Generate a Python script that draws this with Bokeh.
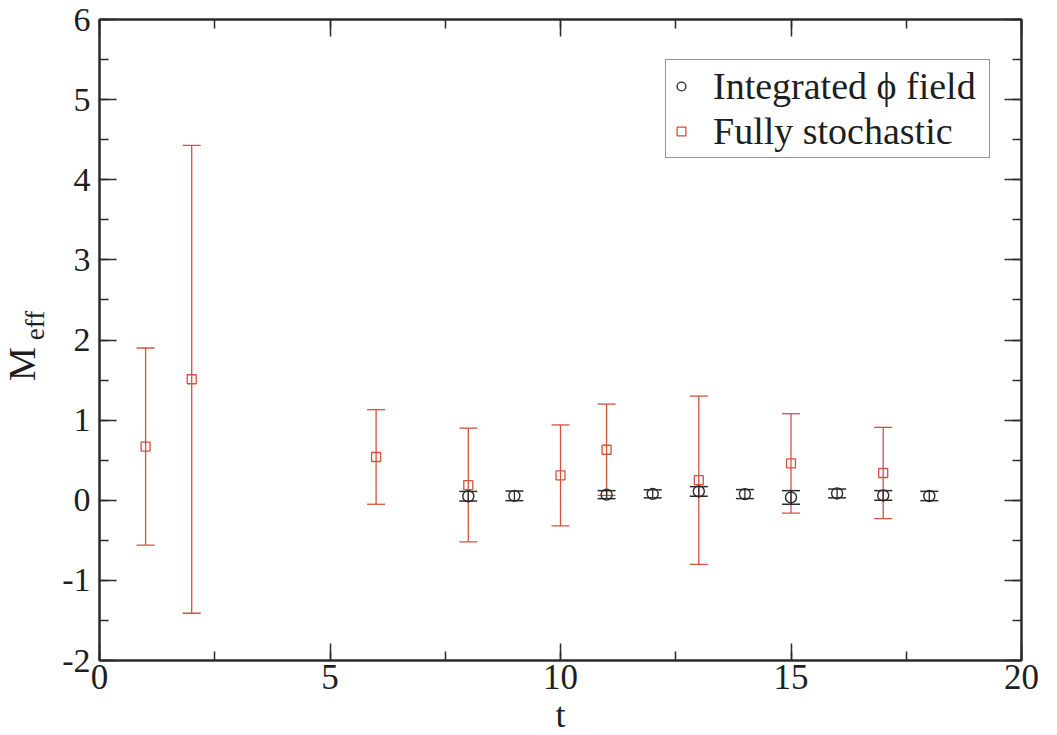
from bokeh.plotting import figure
from bokeh.models import (ColumnDataSource, Whisker, TeeHead, Legend, LegendItem,
                          Label, LinearAxis, SingleIntervalTicker, Range1d,
                          CustomJSTickFormatter)
from bokeh.embed import file_html
from bokeh.resources import INLINE

# Effective mass per time slice, integrated phi field estimator
t_int = [8, 9, 11, 12, 13, 14, 15, 16, 17, 18]
m_int = [0.05, 0.055, 0.07, 0.08, 0.11, 0.077, 0.035, 0.085, 0.06, 0.053]
e_int = [0.06, 0.06, 0.05, 0.05, 0.06, 0.056, 0.085, 0.055, 0.06, 0.058]

# Effective mass per time slice, fully stochastic estimator
t_sto = [1, 2, 6, 8, 10, 11, 13, 15, 17]
m_sto = [0.67, 1.51, 0.54, 0.19, 0.31, 0.63, 0.25, 0.46, 0.34]
e_sto = [1.23, 2.92, 0.59, 0.71, 0.63, 0.57, 1.05, 0.62, 0.57]

x_ticks_interval = 5
y_ticks_interval = 1

FONT = "Liberation Serif"
INK = "#2b2b2b"
TXT = "#1e1e1e"
RED = "#d4523e"

src_int = ColumnDataSource(dict(
    t=t_int, m=m_int,
    lo=[m - e for m, e in zip(m_int, e_int)],
    hi=[m + e for m, e in zip(m_int, e_int)],
))
src_sto = ColumnDataSource(dict(
    t=t_sto, m=m_sto,
    lo=[m - e for m, e in zip(m_sto, e_sto)],
    hi=[m + e for m, e in zip(m_sto, e_sto)],
))

p = figure(width=1057, height=735, output_backend="svg", toolbar_location=None,
           x_range=Range1d(0, 20), y_range=Range1d(-2, 6),
           min_border_left=99, min_border_right=36, min_border_top=19,
           min_border_bottom=75)
p.background_fill_color = "white"
p.border_fill_color = "white"
p.outline_line_color = INK
p.outline_line_width = 2
p.xgrid.visible = False
p.ygrid.visible = False

# mirrored axes on top and right (ticks only)
p.add_layout(LinearAxis(), "above")
p.add_layout(LinearAxis(), "right")

blank = CustomJSTickFormatter(code="return ''")
for ax in p.axis:
    ax.axis_line_color = INK
    ax.axis_line_width = 2
    ax.major_tick_line_color = INK
    ax.minor_tick_line_color = INK
    ax.major_tick_line_width = 1.5
    ax.minor_tick_line_width = 1.5
    ax.major_tick_in = 17
    ax.major_tick_out = 0
    ax.minor_tick_in = 9
    ax.minor_tick_out = 0
    ax.major_label_text_font = FONT
    ax.major_label_text_color = TXT

for ax in p.xaxis:
    ax.ticker = SingleIntervalTicker(interval=x_ticks_interval, num_minor_ticks=2)
for ax in p.yaxis:
    ax.ticker = SingleIntervalTicker(interval=y_ticks_interval, num_minor_ticks=2)

xb = p.below[0]
xb.major_label_text_font_size = "35px"
xb.major_label_standoff = 4

yl = p.left[0]
yl.major_label_text_font_size = "34px"
yl.major_label_standoff = 9
yl.major_label_overrides = {-1: "-1", -2: "-2"}

for ax in (p.above[0], p.right[0]):
    ax.formatter = blank
    ax.major_label_text_font_size = "0px"
    ax.major_label_standoff = 0

# error bars
wk_sto = Whisker(source=src_sto, base="t", lower="lo", upper="hi", dimension="height",
                 line_color=RED, line_width=1.3, level="underlay",
                 lower_head=TeeHead(size=18, line_color=RED, line_width=1.3),
                 upper_head=TeeHead(size=18, line_color=RED, line_width=1.3))
wk_int = Whisker(source=src_int, base="t", lower="lo", upper="hi", dimension="height",
                 line_color=INK, line_width=1.3, level="underlay",
                 lower_head=TeeHead(size=18, line_color=INK, line_width=1.5),
                 upper_head=TeeHead(size=18, line_color=INK, line_width=1.5))
p.add_layout(wk_sto)
p.add_layout(wk_int)

r_sto = p.scatter("t", "m", source=src_sto, marker="square", size=9,
                  fill_color="white", fill_alpha=0, line_color=RED, line_width=1.3)
r_int = p.scatter("t", "m", source=src_int, marker="circle", size=11,
                  fill_color="white", fill_alpha=0, line_color=INK, line_width=1.4)

legend = Legend(items=[LegendItem(label="Integrated \u03d5 field", renderers=[r_int]),
                       LegendItem(label="Fully stochastic", renderers=[r_sto])],
                location=(566, 502), orientation="vertical")
legend.border_line_color = INK
legend.border_line_width = 1.5
legend.background_fill_color = "white"
legend.background_fill_alpha = 1
legend.padding = 4
legend.spacing = 1
legend.margin = 0
legend.label_height = 42
legend.label_width = 272
legend.glyph_width = 22
legend.glyph_height = 22
legend.label_standoff = 21
legend.label_text_font = FONT
legend.label_text_font_size = "38px"
legend.label_text_color = TXT
p.add_layout(legend, "center")

# axis titles, hosted in the side panels so they are drawn outside the frame
lab_m = Label(x=-1.69, y=1.70, text="M", text_font=FONT, text_font_size="38px",
              text_color=TXT, text_align="center", text_baseline="middle",
              angle=1.5708)
lab_t = Label(x=10, y=-2.68, text="t", text_font=FONT, text_font_size="36px",
              text_color=TXT, text_align="center", text_baseline="middle")
lab_eff = Label(x=-1.40, y=2.18, text="eff", text_font=FONT, text_font_size="27px",
                text_color=TXT, text_align="center", text_baseline="middle",
                angle=1.5708)
p.add_layout(lab_m, "left")
p.add_layout(lab_t, "left")
p.add_layout(lab_eff, "right")

open("out.html", "w").write(file_html(p, INLINE))
